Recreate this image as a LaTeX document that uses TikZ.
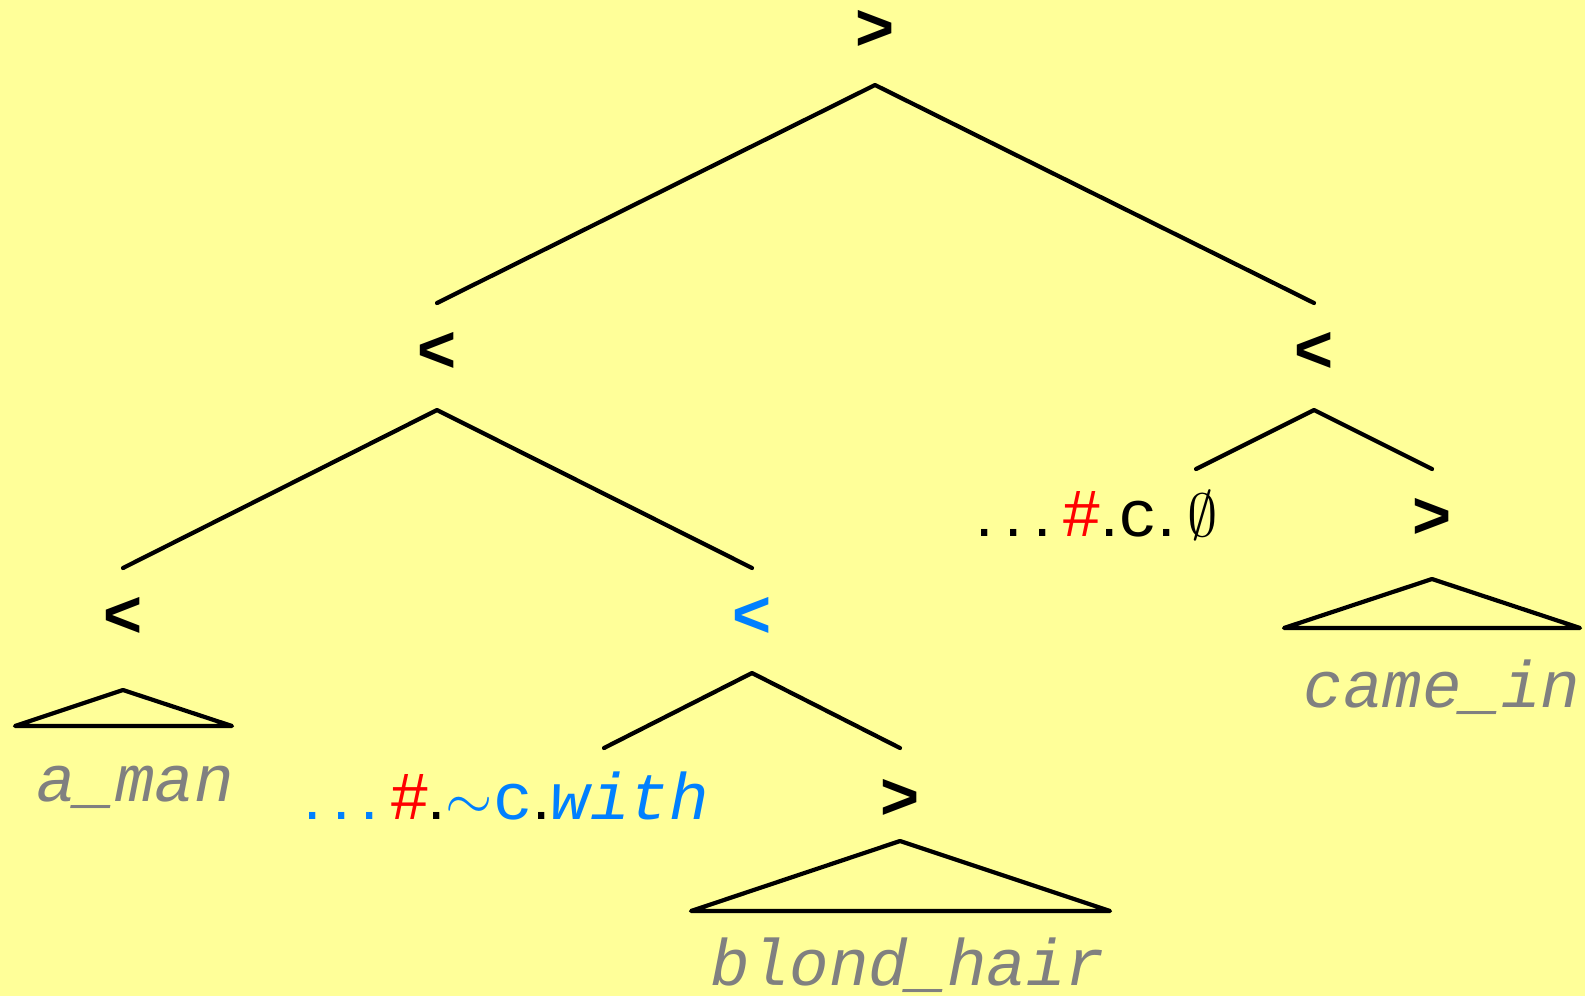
\documentclass[tikz,border=0pt]{standalone}
\usepackage{fontspec}
\setmainfont{Liberation Sans}
\setmonofont{Liberation Mono}
\definecolor{paper}{RGB}{255,255,153}
\definecolor{hiblue}{RGB}{0,128,255}
\definecolor{leafgray}{RGB}{128,128,128}
\newcommand\spreaddots{.\kern.16em.\kern.16em.\kern.18em}
\begin{document}
\begin{tikzpicture}
[
    x=0.01cm, y=-0.01cm,
    op/.style={font=\fontsize{19}{22}\selectfont\bfseries, inner sep=0pt},
    leaf/.style={font=\fontsize{18.7}{22}\selectfont\ttfamily\itshape, text=leafgray, inner sep=0pt},
    mixed/.style={font=\fontsize{18.7}{22}\selectfont, inner sep=0pt},
    branch/.style={line width=1.2pt, line cap=round, line join=round}
]
    \fill[paper] (0,0) rectangle (1585,996);
    \useasboundingbox (0,0) rectangle (1585,996);

    \node [op] (root) at (875,30) {>};
    \coordinate (rootv) at (875,85);
    \coordinate (rootl) at (437,303);
    \coordinate (rootr) at (1314,303);
    \draw [branch] (rootl) -- (rootv) -- (rootr);

    \node [op] (left) at (437,352) {<};
    \coordinate (leftv) at (437,410);
    \coordinate (leftl) at (123,568);
    \coordinate (leftr) at (752,568);
    \draw [branch] (leftl) -- (leftv) -- (leftr);

    \node [op] (right) at (1314,352) {<};
    \coordinate (rightv) at (1314,410);
    \coordinate (rightl) at (1196,469);
    \coordinate (rightr) at (1432,469);
    \draw [branch] (rightl) -- (rightv) -- (rightr);

    \node [mixed] (rightgap) at (1097,515) {\spreaddots\textcolor{red}{\#}.\texttt{c}.\kern.18em$\emptyset$};

    \node [op] (came) at (1432,518) {>};
    \coordinate (camev) at (1432,579);
    \coordinate (camel) at (1284,628);
    \coordinate (camer) at (1580,628);
    \draw [branch] (camev) -- (camel) -- (camer) -- cycle;
    \node [leaf] (camein) at (1442,687) {came\_in};

    \node [op] (aman) at (123,617) {<};
    \coordinate (amanv) at (123,690);
    \coordinate (amanl) at (15,726);
    \coordinate (amanr) at (232,726);
    \draw [branch] (amanv) -- (amanl) -- (amanr) -- cycle;
    \node [leaf] (amanword) at (135,787) {a\_man};

    \node [op, text=hiblue] (with) at (752,617) {<};
    \coordinate (withv) at (752,673);
    \coordinate (withl) at (604,748);
    \coordinate (withr) at (900,748);
    \draw [branch] (withl) -- (withv) -- (withr);

    \node [mixed] (withgap) at (506,796) {\textcolor{hiblue}{\spreaddots}\textcolor{red}{\#}.\textcolor{hiblue}{$\sim$\texttt{c}}.\textcolor{hiblue}{\texttt{\itshape with}}};

    \node [op] (blond) at (900,799) {>};
    \coordinate (blondv) at (900,841);
    \coordinate (blondl) at (691,911);
    \coordinate (blondr) at (1110,911);
    \draw [branch] (blondv) -- (blondl) -- (blondr) -- cycle;
    \node [leaf] (blondhair) at (908,965) {blond\_hair};
\end{tikzpicture}
\end{document}
